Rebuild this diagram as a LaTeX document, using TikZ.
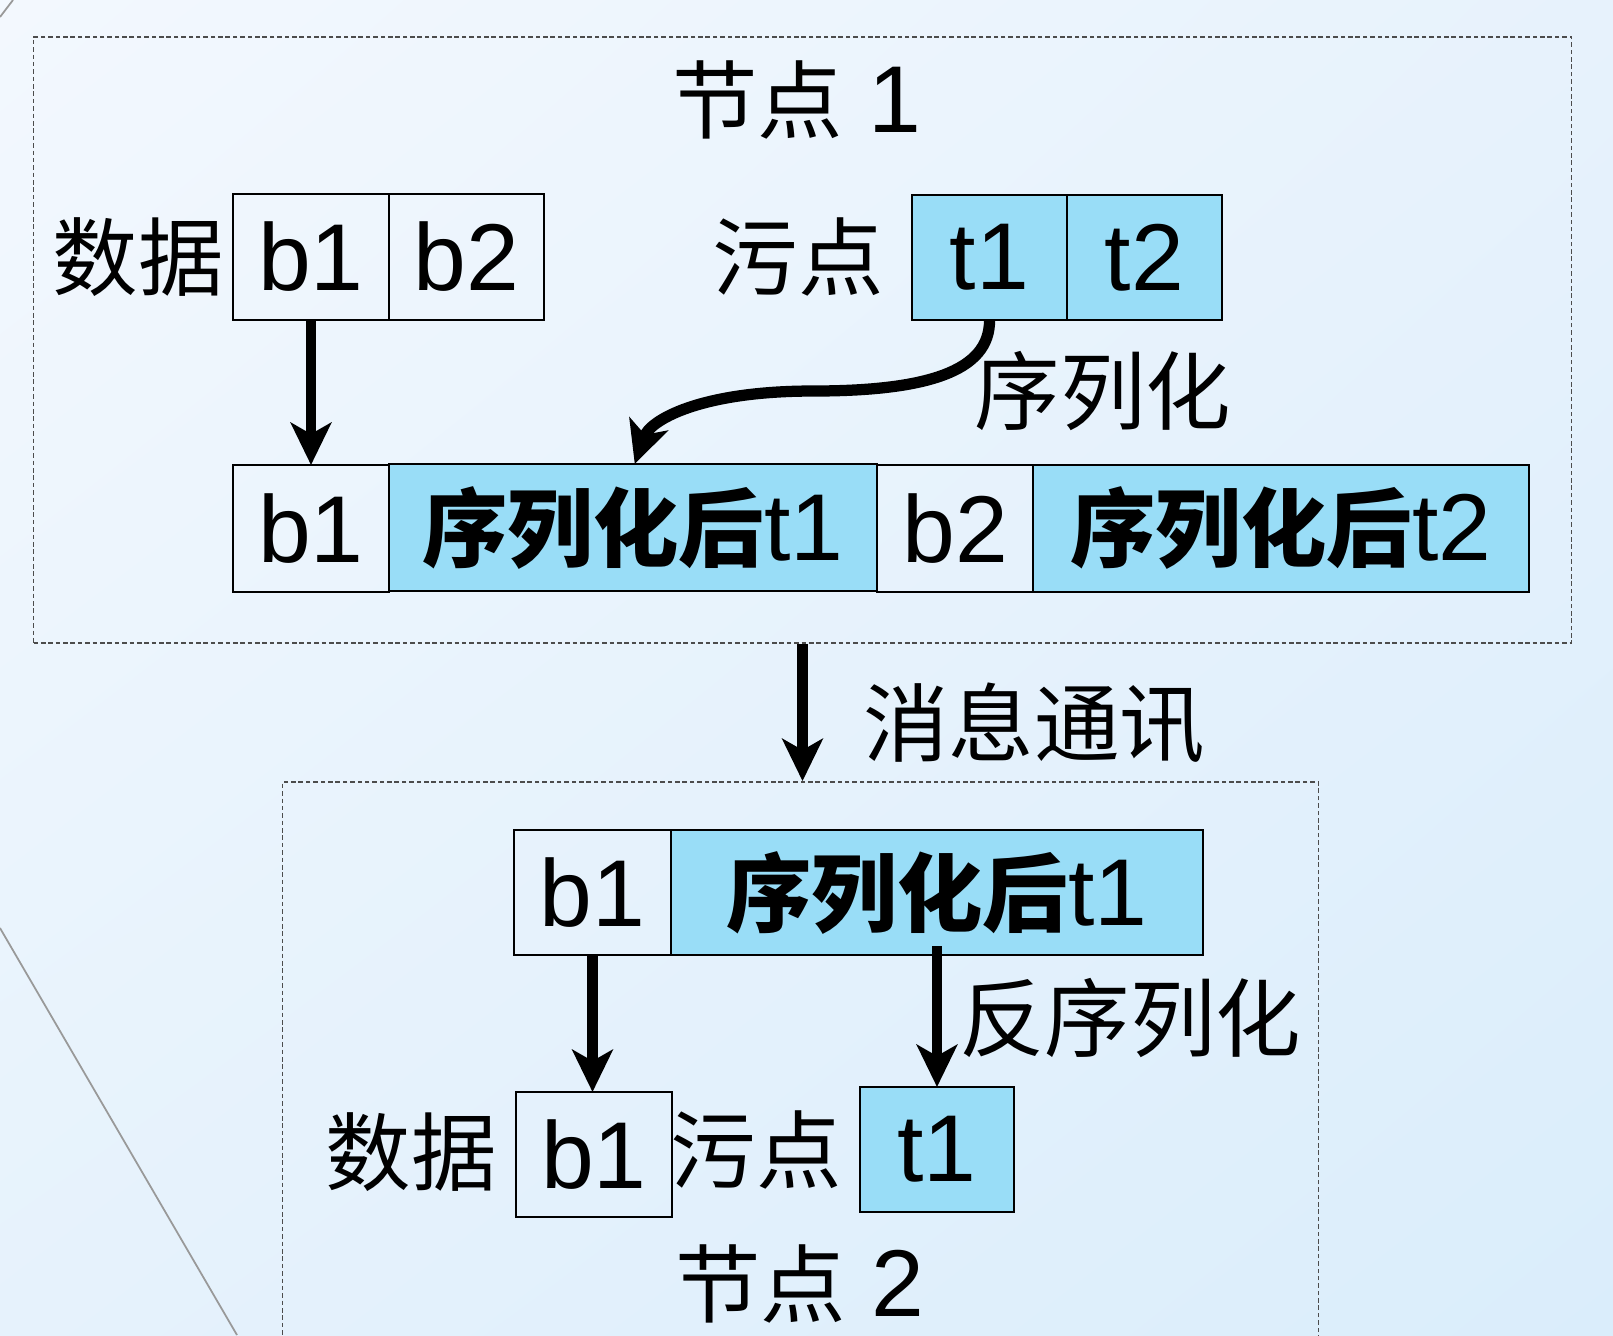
\documentclass[tikz,border=0pt]{standalone}
\usepackage{fontspec}
\setmainfont{Noto Sans CJK SC}
\newfontfamily\latf{Liberation Sans}
\newcommand\Lat[1]{{\latf\mdseries\fontsize{27pt}{30pt}\selectfont #1}}
\usetikzlibrary{arrows.meta,calc,shadings}
\definecolor{tblue}{HTML}{99DDF7}
\definecolor{bgA}{HTML}{F3F8FE}
\definecolor{bgB}{HTML}{E7F2FC}
\definecolor{bgC}{HTML}{E6F2FC}
\definecolor{bgD}{HTML}{DAEDFB}
\begin{document}
\begin{tikzpicture}[x=0.01cm,y=-0.01cm,
  font=\fontsize{24.3pt}{28pt}\selectfont,
  cell/.style={draw=black, line width=0.6pt, inner sep=0pt, outer sep=0pt, minimum height=1.26cm},
  taint/.style={cell, fill=tblue},
  frame/.style={draw=black!70, line width=0.45pt, dash pattern=on 1.3pt off 0.8pt, inner sep=0pt},
  arr/.style={line width=2.9pt, -{Stealth[length=12pt,width=11.5pt,inset=3.2pt]}},
  lbl/.style={inner sep=0pt}]
\clip (0,0) rectangle (1613,1335);
\shade[upper left=bgA, upper right=bgB, lower left=bgC, lower right=bgD] (0,0) rectangle (1613,1335);
% decorative lines
\draw[gray!80, line width=0.5pt] (0,928) -- (237,1335);
\draw[gray!80, line width=0.5pt] (0,17) -- (13,0);
% frames
\node[frame, minimum width=15.37cm, minimum height=6.06cm] (frame1) at (802.5,340) {};
\node[frame, minimum width=10.35cm, minimum height=5.63cm] (frame2) at (800.5,1063.5) {};
% node 1 contents
\node[lbl] (title1) at (797,100) {节点\hspace{0.3em}\Lat{1}};
\node[lbl] (data1) at (138,257) {数据};
\node[cell, minimum width=1.56cm] (Ab1) at (311,257) {\Lat{b1}};
\node[cell, minimum width=1.55cm] (Ab2) at (466.5,257) {\Lat{b2}};
\node[lbl] (taint1) at (798,257) {污点};
\node[taint, minimum width=1.55cm, minimum height=1.25cm] (At1) at (989.5,257.5) {\Lat{t1}};
\node[taint, minimum width=1.55cm, minimum height=1.25cm] (At2) at (1144.5,257.5) {\Lat{t2}};
\node[cell, minimum width=1.565cm, minimum height=1.27cm] (Bb1) at (311,528.5) {\Lat{b1}};
\node[taint, minimum width=4.875cm, minimum height=1.27cm] (Bs1) at (632.75,527.5) {\bfseries 序列化后\Lat{t1}};
\node[cell, minimum width=1.565cm, minimum height=1.27cm] (Bb2) at (955,528.5) {\Lat{b2}};
\node[taint, minimum width=4.96cm, minimum height=1.27cm] (Bs2) at (1281,528.5) {\bfseries 序列化后\Lat{t2}};
\node[lbl] (ser) at (1103,391) {序列化};
% arrows in node 1
\draw[arr] (Ab1.south) -- (Ab1.south |- Bb1.north);
\draw[arr, line width=3.2pt] (At1.south) .. controls (990,372) and (925,391) .. (813,391)
   .. controls (700,391) and (650,420) .. ([xshift=0.02cm]Bs1.north);
% message arrow
\draw[arr] (frame1.south) -- (frame1.south |- frame2.north);
\node[lbl] (msg) at (1034,723) {消息通讯};
% node 2 contents
\node[cell, minimum width=1.57cm, minimum height=1.25cm] (Cb1) at (592.5,892.5) {\Lat{b1}};
\node[taint, minimum width=5.32cm, minimum height=1.25cm] (Cs1) at (937,892.5) {\bfseries 序列化后\Lat{t1}};
\node[lbl] (data2) at (411,1152) {数据};
\node[cell, minimum width=1.56cm, minimum height=1.25cm] (Db1) at (594,1154.5) {\Lat{b1}};
\node[lbl] (taint2) at (756,1150) {污点};
\node[taint, minimum width=1.54cm, minimum height=1.25cm] (Dt1) at (937,1149.5) {\Lat{t1}};
\node[lbl] (deser) at (1130,1018) {反序列化};
\node[lbl] (title2) at (800,1284) {节点\hspace{0.3em}\Lat{2}};
\draw[arr] (Cb1.south) -- (Cb1.south |- Db1.north);
\draw[arr] ([yshift=0.09cm]Cs1.south -| Dt1.north) -- (Dt1.north);
\end{tikzpicture}
\end{document}
